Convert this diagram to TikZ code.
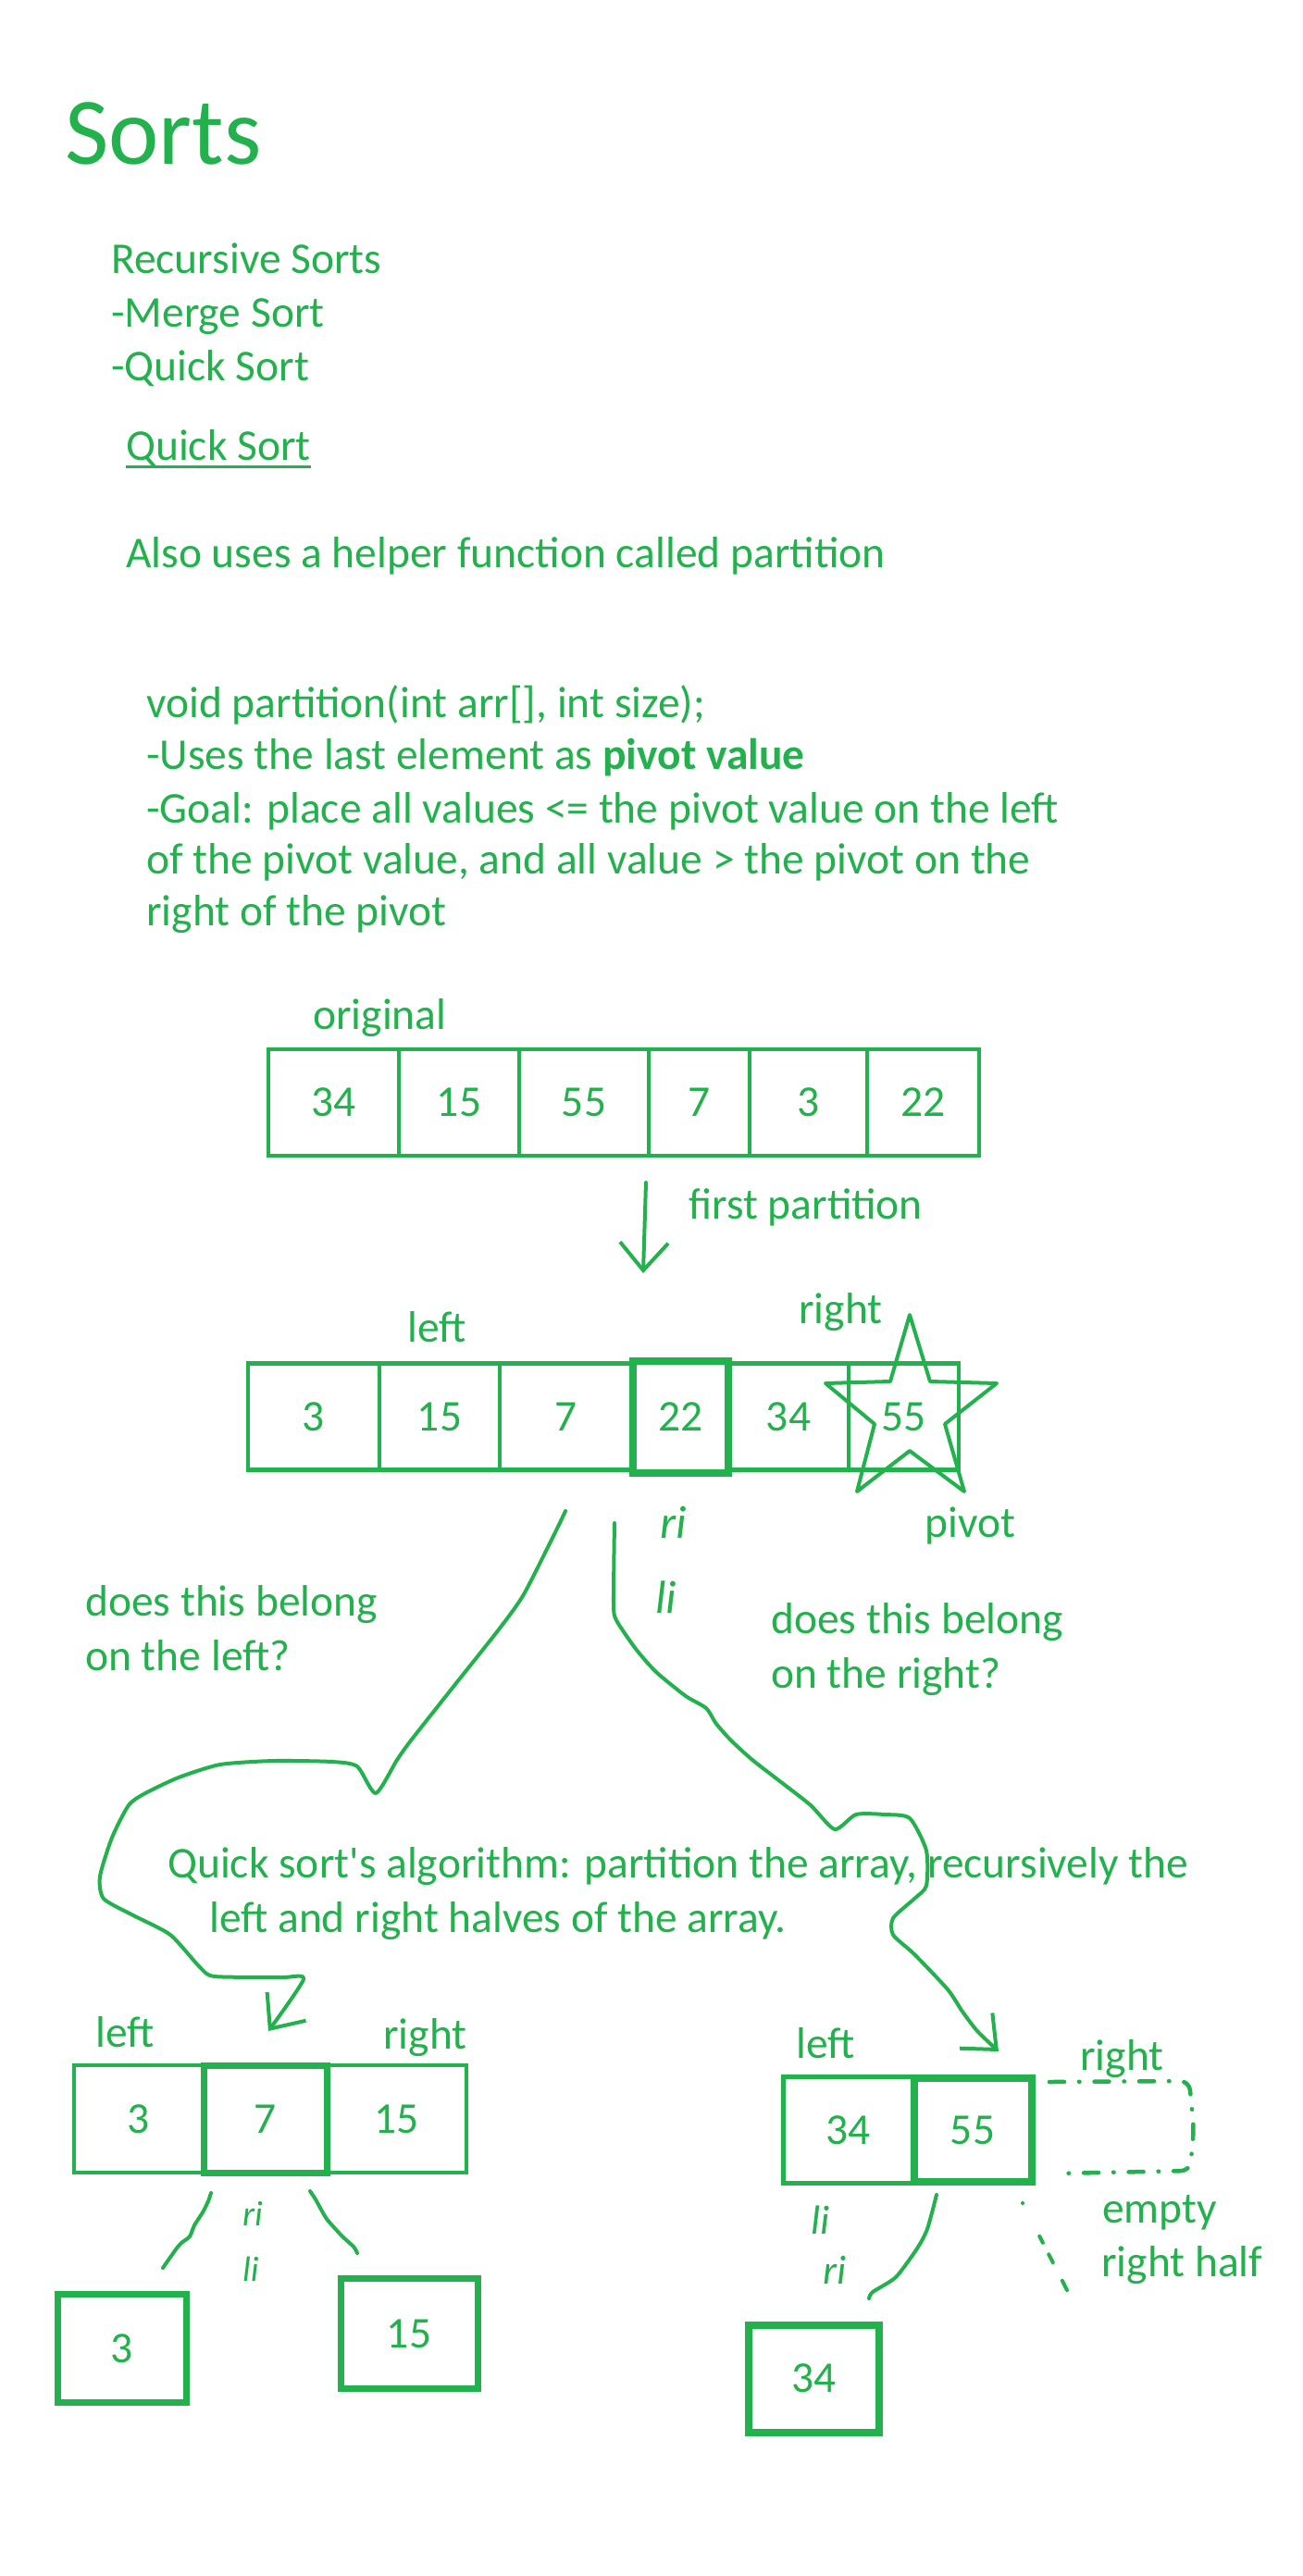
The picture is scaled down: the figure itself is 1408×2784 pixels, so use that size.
\documentclass[tikz,border=0pt]{standalone}
\usepackage{fontspec}
\setmainfont{Carlito}
\usetikzlibrary{arrows.meta}
\definecolor{paintgreen}{RGB}{34,177,76}
\tikzset{
  txt/.style={text=paintgreen, inner sep=0pt, anchor=base west, font=\fontsize{47.5}{58}\selectfont},
  cell/.style={draw=paintgreen, text=paintgreen, line width=4.5pt, inner sep=0pt, minimum height=115pt, font=\fontsize{47.5}{58}\selectfont},
  boldcell/.style={cell, line width=8pt},
  hand/.style={draw=paintgreen, line width=4pt, line cap=round, line join=round},
  scrawl/.style={text=paintgreen, inner sep=0pt, anchor=base west, font=\itshape\fontsize{50}{58}\selectfont},
  barb/.style={-{Straight Barb[length=30pt, width=52pt]}}
}
\begin{document}
\begin{tikzpicture}[x=1pt, y=-1pt]
\useasboundingbox (0,0) rectangle (1408,2784);

\node[txt, font=\fontsize{103}{120}\selectfont] (title) at (70,177) {Sorts};
\node[txt] (rec) at (120,295) {Recursive Sorts};
\node[txt] (merge) at (120,353) {-Merge Sort};
\node[txt] (quick) at (120,411) {-Quick Sort};
\node[txt] (qsort) at (136,497) {Quick Sort};
\draw[paintgreen, line width=3pt] ([yshift=-7pt]qsort.base west) -- ([yshift=-7pt]qsort.base east);
\node[txt] (helper) at (136,613) {Also uses a helper function called partition};

\node[txt] (sig) at (158,775) {void partition(int arr[], int size);};
\node[txt] (uses) at (158,831) {-Uses the last element as \textbf{pivot value}};
\node[txt] (goala) at (158,889) {-Goal: place all values <= the pivot value on the left};
\node[txt] (goalb) at (158,944) {of the pivot value, and all value > the pivot on the};
\node[txt] (goalc) at (158,1000) {right of the pivot};

\def\ya{1191.5}
\node[txt] (orig) at (338,1112) {original};
\node[cell, minimum width=141pt] (o1) at (360.5,\ya) {34};
\node[cell, minimum width=130pt] (o2) at (496,\ya) {15};
\node[cell, minimum width=140pt] (o3) at (631,\ya) {55};
\node[cell, minimum width=109pt] (o4) at (755.5,\ya) {7};
\node[cell, minimum width=127pt] (o5) at (873.5,\ya) {3};
\node[cell, minimum width=121pt] (o6) at (997.5,\ya) {22};

\coordinate (fa) at (698,1278);
\coordinate (fb) at (695,1376);
\draw[hand, barb] (fa) -- (fb);
\node[txt] (first) at (744,1317) {first partition};

\def\yb{1531}
\node[txt] (lefta) at (440,1450) {left};
\node[txt] (righta) at (863,1430) {right};
\node[cell, minimum width=142pt] (p1) at (339,\yb) {3};
\node[cell, minimum width=130pt] (p2) at (475,\yb) {15};
\node[cell, minimum width=144pt] (p3) at (612,\yb) {7};
\node[cell, minimum width=130pt] (p5) at (852,\yb) {34};
\node[cell, minimum width=119pt] (p6) at (976.5,\yb) {55};
\node[boldcell, minimum width=103pt, minimum height=121pt] (p4) at (735.5,\yb) {22};
\draw[hand] (983,1421) -- (1005,1493) -- (1077,1495) -- (1021,1539) -- (1042,1612) -- (983,1568)
  -- (926,1612) -- (945,1539) -- (892,1495) -- (962,1493) -- cycle;
\node[txt] (pivot) at (999,1661) {pivot};

\node[scrawl] (ria) at (713,1662) {ri};
\node[scrawl] (lia) at (708,1743) {li};

\node[txt] (askl) at (92,1746) {does this belong};
\node[txt] (asklb) at (92,1805) {on the left?};
\node[txt] (askr) at (833,1765) {does this belong};
\node[txt] (askrb) at (833,1824) {on the right?};

\coordinate (l0) at (611,1633);
\coordinate (l1) at (290,2195);
\draw[hand, barb] plot[smooth, tension=0.4] coordinates {(l0) (600,1656) (566,1723) (539,1761) (489,1824)
  (444,1881) (429,1902) (406,1938) (386,1909) (359,1904) (296,1903) (238,1907) (193,1921) (157,1938)
  (139,1951) (121,1986) (108,2028) (112,2052) (144,2070) (184,2091) (216,2126) (232,2136) (304,2137)
  (328,2139) (l1)};

\coordinate (r0) at (664,1646);
\coordinate (r1) at (1079,2217);
\draw[hand, barb] plot[smooth, tension=0.4] coordinates {(r0) (663,1733) (666,1751) (687,1782) (709,1807)
  (741,1833) (763,1846) (774,1863) (790,1881) (813,1902) (844,1926) (876,1951) (902,1977) (925,1961)
  (956,1961) (983,1965) (1001,2000) (1001,2038) (988,2052) (965,2073) (965,2091) (988,2112) (1024,2150)
  (1040,2174) (1056,2195) (r1)};

\node[txt] (algo) at (181,2029) {Quick sort\textquotesingle s algorithm: partition the array, recursively the};
\node[txt] (algob) at (226,2088) {left and right halves of the array.};

\def\yc{2290}
\node[txt] (leftb) at (103,2212) {left};
\node[txt] (rightb) at (414,2214) {right};
\node[cell, minimum width=140pt, minimum height=116pt] (a1) at (150,\yc) {3};
\node[cell, minimum width=151pt, minimum height=116pt] (a3) at (428.5,\yc) {15};
\node[boldcell, minimum width=133pt, minimum height=116pt, line width=7pt] (a2) at (286.5,\yc) {7};

\coordinate (c0) at (228,2370);
\coordinate (c1) at (176,2451);
\draw[hand] plot[smooth, tension=0.4] coordinates {(c0) (225,2379) (219,2391) (210,2405) (205,2417)
  (196,2424) (190,2431) (c1)};
\coordinate (d0) at (335,2368);
\coordinate (d1) at (386,2435);
\draw[hand] plot[smooth, tension=0.4] coordinates {(d0) (341,2377) (353,2398) (370,2417) (382,2428) (d1)};
\node[scrawl, font=\itshape\fontsize{38}{44}\selectfont] (rib) at (262,2405) {ri};
\node[scrawl, font=\itshape\fontsize{38}{44}\selectfont] (lib) at (262,2465) {li};

\node[boldcell, minimum width=139pt, minimum height=116.5pt, line width=7pt] (s3) at (131.5,2538) {3};
\node[boldcell, minimum width=148pt, minimum height=119.5pt, line width=7pt] (s15) at (442,2522) {15};

\def\yd{2302}
\node[txt] (leftc) at (860,2224) {left};
\node[txt] (rightc) at (1167,2237) {right};
\node[cell, minimum width=140.5pt] (b1) at (916.5,\yd) {34};
\node[boldcell, minimum width=127pt, minimum height=112pt] (b2) at (1051,\yd) {55};

\coordinate (e0) at (1134,2250);
\coordinate (e1) at (1140,2349);
\draw[hand, line width=4.5pt, rounded corners=10pt, dash pattern=on 16pt off 16pt on 0.5pt off 16pt]
  (e0) -- (1285,2249) -- (1290,2300) -- (1286,2346) -- (e1);
\node[txt] (empty) at (1191,2402) {empty};
\node[txt] (half) at (1190,2460) {right half};

\node[scrawl, font=\itshape\fontsize{44}{50}\selectfont] (lic) at (876,2414) {li};
\node[scrawl, font=\itshape\fontsize{44}{50}\selectfont] (ric) at (889,2468) {ri};
\coordinate (g0) at (1012,2372);
\coordinate (g1) at (939,2484);
\draw[hand] plot[smooth, tension=0.4] coordinates {(g0) (1002,2409) (991,2430) (968,2461) (943,2477) (g1)};
\coordinate (h0) at (1105,2381);
\coordinate (h1) at (1153,2475);
\draw[hand, dash pattern=on 0.1pt off 40pt on 8pt off 14pt on 10pt off 22pt on 10pt] (h0) -- (h1);

\node[boldcell, minimum width=141pt, minimum height=116pt] (s34) at (879.5,2570.5) {34};
\end{tikzpicture}
\end{document}
